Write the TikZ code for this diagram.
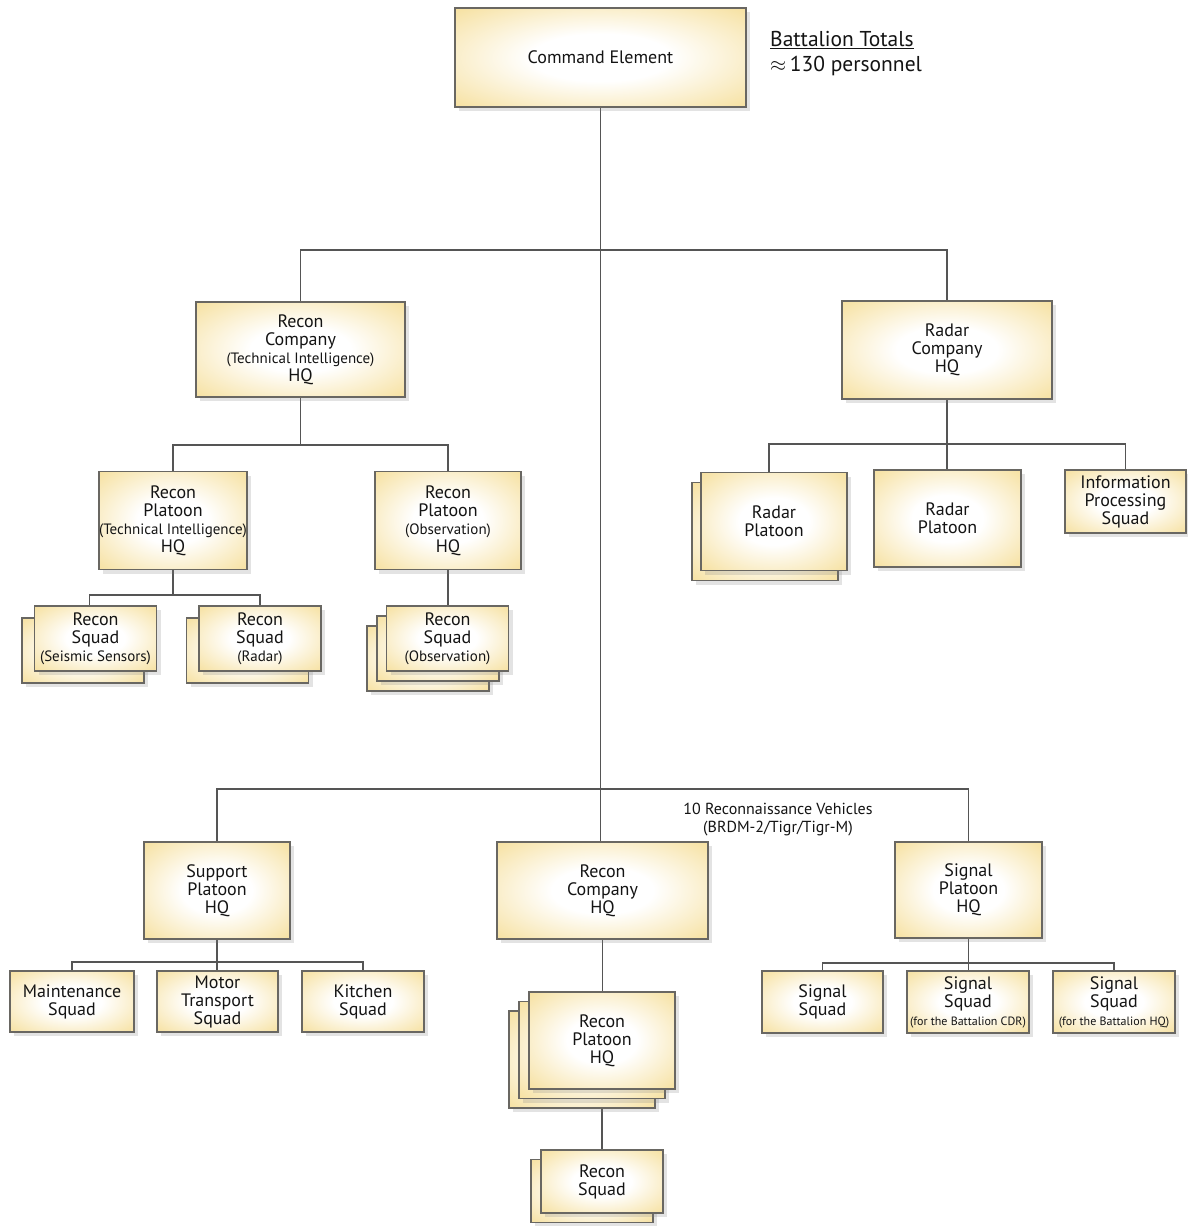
\documentclass[tikz,border=0pt]{standalone}
\usepackage{fontspec}
\setmainfont{PT Sans}
\usetikzlibrary{shadows,calc}
\definecolor{boxy}{RGB}{246,224,158}
\definecolor{edgec}{RGB}{105,103,98}
\definecolor{wirec}{RGB}{85,85,85}
\pgfdeclarelayer{bg}
\pgfsetlayers{bg,main}
\pgfdeclareradialshading{glow}{\pgfpoint{0bp}{0bp}}{color(0bp)=(white); color(12bp)=(white); color(36bp)=(boxy); color(50bp)=(boxy)}
\newcommand{\smtxt}[1]{{\fontsize{15}{18}\selectfont #1}}
\newcommand{\tinytxt}[1]{{\fontsize{12}{18}\selectfont #1}}
\tikzset{
  box/.style 2 args={draw=edgec, line width=1.3pt, shading=glow,
    drop shadow={opacity=0.22, shadow xshift=4pt, shadow yshift=-4pt},
    align=center, inner sep=0pt, minimum width=#1pt, minimum height=#2pt,
    font=\fontsize{18}{18}\selectfont, text=black!92},
  wire/.style={draw=wirec, line width=1.4pt},
}
\begin{document}
\begin{tikzpicture}[x=1pt,y=-1pt]
\useasboundingbox (0,0) rectangle (1188,1226);

% top
\node[box={291}{99}] (cmd) at (600.5,57.5) {Command Element};
\node[anchor=north west, align=left, inner sep=0pt, font=\fontsize{21.5}{25}\selectfont, text=black!92] (tot) at (770,31) {\underline{Battalion Totals}\\$\approx$\,130 personnel};

% recon company (technical intelligence)
\node[box={209}{95}] (rcTI) at (300.5,349.5) {Recon\\Company\\\smtxt{(Technical Intelligence)}\\HQ};
\node[box={210}{98}] (radarCo) at (947,350) {Radar\\Company\\HQ};

\node[box={146}{98}] (rpTI) at (173,520.5) {Recon\\Platoon\\\smtxt{(Technical Intelligence)}\\HQ};
\node[box={146}{98}] (rpObs) at (448,520.5) {Recon\\Platoon\\\smtxt{(Observation)}\\HQ};

\node[box={122}{65}] (sqSeisB) at (83,650.5) {};
\node[box={122}{65}] (sqSeisF) at (95.5,638.5) {Recon\\Squad\\\smtxt{(Seismic Sensors)}};
\node[box={122}{65}] (sqRadB) at (247.5,650.5) {};
\node[box={122}{65}] (sqRadF) at (260,638.5) {Recon\\Squad\\\smtxt{(Radar)}};
\node[box={122}{65}] (sqObsB) at (428,658.5) {};
\node[box={122}{65}] (sqObsM) at (438,648.5) {};
\node[box={122}{65}] (sqObsF) at (447.5,638.5) {Recon\\Squad\\\smtxt{(Observation)}};

% radar company
\node[box={146}{98}] (rpl1B) at (765,531.5) {};
\node[box={146}{98}] (rpl1F) at (774,521.5) {Radar\\Platoon};
\node[box={147}{97}] (rpl2) at (947.5,518.5) {Radar\\Platoon};
\node[box={121}{63}] (info) at (1125.5,501.5) {Information\\Processing\\Squad};

% bottom level
\node[anchor=center, align=center, inner sep=0pt, font=\fontsize{16}{18}\selectfont, text=black!92] (veh) at (778,820) {10 Reconnaissance Vehicles\\(BRDM-2/Tigr/Tigr-M)};
\node[box={146}{97}] (support) at (217,890.5) {Support\\Platoon\\HQ};
\node[box={211}{97}] (rcHQ) at (602.5,890.5) {Recon\\Company\\HQ};
\node[box={147}{96}] (sigHQ) at (968.5,890) {Signal\\Platoon\\HQ};

\node[box={124}{61}] (maint) at (72,1001.5) {Maintenance\\Squad};
\node[box={121}{61}] (motor) at (217.5,1001.5) {Motor\\Transport\\Squad};
\node[box={122}{61}] (kitchen) at (363,1001.5) {Kitchen\\Squad};

\node[box={121}{62}] (sig1) at (822.5,1002) {Signal\\Squad};
\node[box={122}{62}] (sig2) at (968,1002) {Signal\\Squad\\\tinytxt{(for the Battalion CDR)}};
\node[box={122}{62}] (sig3) at (1114,1002) {Signal\\Squad\\\tinytxt{(for the Battalion HQ)}};

\node[box={146}{97}] (rpHQB) at (582,1059.5) {};
\node[box={146}{97}] (rpHQM) at (592,1050) {};
\node[box={146}{97}] (rpHQF) at (602,1040.5) {Recon\\Platoon\\HQ};
\node[box={122}{63}] (rsqB) at (592,1191) {};
\node[box={122}{63}] (rsqF) at (602,1181.5) {Recon\\Squad};

% connectors
\coordinate (b1) at (600.5,250);
\coordinate (b2) at (300.5,445);
\coordinate (b3) at (173,595);
\coordinate (b4) at (947,444);
\coordinate (b5) at (600.5,789);
\coordinate (b6) at (217,962);
\coordinate (b7) at (968.5,963);
\begin{pgfonlayer}{bg}
\fill[white] (0,0) rectangle (1188,1226);
\draw[wire] (cmd.south) -- (cmd.south |- rcHQ.north);
\draw[wire] (rcTI.north) |- (b1) -| (radarCo.north);
\draw[wire] (rcTI.south) -- (b2);
\draw[wire] (rpTI.north) |- (b2) -| (rpObs.north);
\draw[wire] (rpTI.south) -- (b3);
\draw[wire] ($(sqSeisF.north)+(-6,0)$) |- (b3) -| (sqRadF.north);
\draw[wire] (rpObs.south) -- (rpObs.south |- sqObsF.north);
\draw[wire] (radarCo.south) -- (b4);
\draw[wire] ($(rpl1F.north)+(-5,0)$) |- (b4) -| (info.north);
\draw[wire] (b4) -- (b4 |- rpl2.north);
\draw[wire] (support.north) |- (b5) -| (sigHQ.north);
\draw[wire] (support.south) -- (b6);
\draw[wire] (maint.north) |- (b6) -| (kitchen.north);
\draw[wire] (b6) -- (b6 |- motor.north);
\draw[wire] (sigHQ.south) -- (b7);
\draw[wire] (sig1.north) |- (b7) -| (sig3.north);
\draw[wire] (b7) -- (b7 |- sig2.north);
\draw[wire] (rcHQ.south) -- (rcHQ.south |- rpHQF.north);
\draw[wire] (rpHQF.south) -- (rpHQF.south |- rsqF.north);
\end{pgfonlayer}
\end{tikzpicture}
\end{document}
